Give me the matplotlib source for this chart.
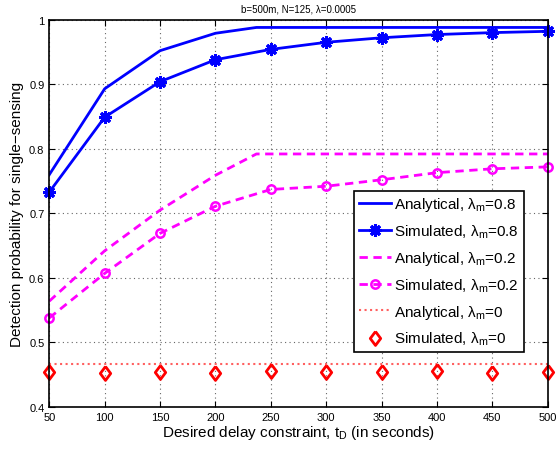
import matplotlib
matplotlib.use('Agg')
import matplotlib.pyplot as plt

plt.rcParams['font.family'] = ['Liberation Sans', 'DejaVu Sans']
plt.rcParams['mathtext.default'] = 'regular'

# data
t_sim = [50, 100, 150, 200, 250, 300, 350, 400, 450, 500]
t_ana = [50, 100, 150, 200, 237, 250, 300, 350, 400, 450, 500]

ana_08 = [0.760, 0.893, 0.952, 0.979, 0.988, 0.988, 0.988, 0.988, 0.988, 0.988, 0.988]
sim_08 = [0.733, 0.849, 0.904, 0.938, 0.954, 0.965, 0.972, 0.977, 0.980, 0.982]
ana_02 = [0.564, 0.642, 0.705, 0.759, 0.792, 0.792, 0.792, 0.792, 0.792, 0.792, 0.792]
sim_02 = [0.538, 0.607, 0.669, 0.711, 0.737, 0.742, 0.752, 0.763, 0.769, 0.772]
ana_0 = [0.466] * len(t_ana)
sim_0 = [0.4535, 0.4525, 0.4545, 0.4525, 0.455, 0.4535, 0.454, 0.4565, 0.4525, 0.4545]

fig = plt.figure(figsize=(5.56, 4.56), dpi=100)
ax = fig.add_axes([0.0887, 0.1053, 0.8963, 0.8493])

asterisk = (8, 2, 0)
diamond = [(0, 1), (0.75, 0), (0, -1), (-0.75, 0), (0, 1)]
ax.plot(t_ana, ana_08, '-', color='blue', lw=2, label=r'Analytical, λ$_m$=0.8')
ax.plot(t_sim, sim_08, '-', marker=asterisk, color='blue', lw=2, ms=9, mew=2.2,
        label=r'Simulated, λ$_m$=0.8', clip_on=False)
ax.plot(t_ana, ana_02, '--', color='magenta', lw=2, dashes=(3, 2), label=r'Analytical, λ$_m$=0.2')
ax.plot(t_sim, sim_02, '--o', color='magenta', lw=2, dashes=(3, 2), ms=6, mfc='none', mew=1.8,
        label=r'Simulated, λ$_m$=0.2', clip_on=False)
ax.plot(t_ana, ana_0, ':', color='#ff6060', lw=1.5, label=r'Analytical, λ$_m$=0')
ax.plot(t_sim, sim_0, ls='none', marker=diamond, color='red', ms=10, mfc='none', mew=2,
        label=r'Simulated, λ$_m$=0', clip_on=False)

ax.set_xlim(50, 500)
ax.set_ylim(0.4, 1.0)
ax.set_xticks(t_sim)
ax.set_yticks([0.4, 0.5, 0.6, 0.7, 0.8, 0.9, 1.0])
ax.set_yticklabels(['0.4', '0.5', '0.6', '0.7', '0.8', '0.9', '1'])
ax.tick_params(direction='in', top=True, right=True, labelsize=8, length=4)
ax.grid(True, linestyle=(0, (1, 3)), color='#666666', lw=0.8)
for s in ax.spines.values():
    s.set_linewidth(1.2)

ax.set_title('b=500m, N=125, λ=0.0005', fontsize=7)
ax.set_xlabel(r'Desired delay constraint, t$_D$ (in seconds)', fontsize=11, labelpad=1)
ax.set_ylabel('Detection probability for single\u2212sensing', fontsize=11, labelpad=4)

leg = ax.legend(loc='lower right', bbox_to_anchor=(0.952, 0.142), borderaxespad=0,
                fontsize=11, fancybox=False, framealpha=1, edgecolor='black',
                handlelength=2.1, handletextpad=0.25, borderpad=0.3, labelspacing=0.6)
leg.get_frame().set_linewidth(1.2)

fig.savefig('out.png', dpi=100)
